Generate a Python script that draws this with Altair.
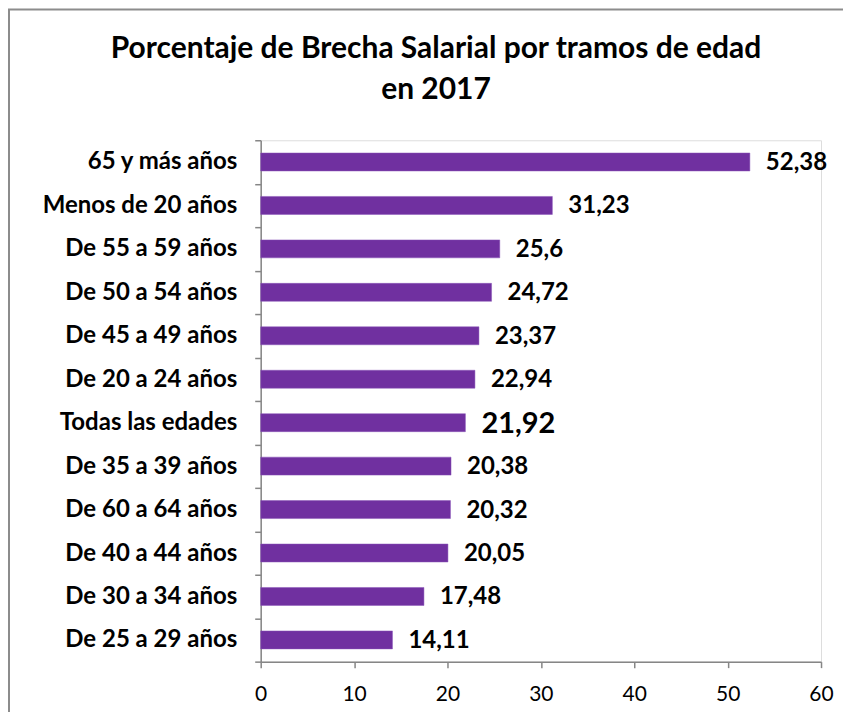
import altair as alt
import pandas as pd

categories = [
    "65 y más años", "Menos de 20 años", "De 55 a 59 años", "De 50 a 54 años",
    "De 45 a 49 años", "De 20 a 24 años", "Todas las edades", "De 35 a 39 años",
    "De 60 a 64 años", "De 40 a 44 años", "De 30 a 34 años", "De 25 a 29 años",
]
values = [52.38, 31.23, 25.6, 24.72, 23.37, 22.94, 21.92, 20.38, 20.32, 20.05, 17.48, 14.11]
labels = ["52,38", "31,23", "25,6", "24,72", "23,37", "22,94", "21,92", "20,38",
          "20,32", "20,05", "17,48", "14,11"]
x_ticks = [0, 10, 20, 30, 40, 50, 60]

df = pd.DataFrame({"categoria": categories, "valor": values, "etiqueta": labels})

FONT = "Lato"
GRAY = "#868686"
PURPLE = "#7030A0"

base = alt.Chart(df)

y_enc = alt.Y(
    "categoria:N", sort=categories, title=None,
    scale=alt.Scale(paddingInner=0, paddingOuter=0),
    axis=alt.Axis(
        tickBand="extent", domainColor=GRAY, tickColor=GRAY, tickSize=6,
        labelFont=FONT, labelFontWeight="bold", labelFontSize=24, labelColor="black",
        labelPadding=18, labelLimit=400, grid=False, domainWidth=1.5, tickWidth=1.5,
    ),
)
x_enc = alt.X(
    "valor:Q", title=None,
    scale=alt.Scale(domain=[0, 60], nice=False),
    axis=alt.Axis(
        values=x_ticks, domainColor=GRAY, tickColor=GRAY, tickSize=6,
        labelFont=FONT, labelFontSize=21, labelColor="black", labelPadding=16,
        labelFlush=False, grid=False, domainWidth=1.5, tickWidth=1.5,
    ),
)

bars = base.mark_bar(size=18, color=PURPLE, stroke="#8a55b8", strokeWidth=0.5).encode(x=x_enc, y=y_enc)

text = base.mark_text(align="left", baseline="middle", dx=16, dy=1, font=FONT,
                      fontWeight="bold", color="black").encode(
    x="valor:Q",
    y=alt.Y("categoria:N", sort=categories),
    text="etiqueta:N",
    size=alt.condition(alt.datum.categoria == "Todas las edades", alt.value(29), alt.value(24)),
)

border = alt.Chart(pd.DataFrame({"b": [0]})).mark_rect(
    fill="transparent", stroke="#8c8c8c", strokeWidth=2, clip=False
).encode(x=alt.value(-252), x2=alt.value(620), y=alt.value(-131), y2=alt.value(620))

chart = alt.layer(border, bars, text).properties(
    width=561, height=522,
    autosize=alt.AutoSizeParams(type="none"),
    padding={"left": 253, "top": 132, "right": 22, "bottom": 50},
    title=alt.TitleParams(
        ["Porcentaje de Brecha Salarial por tramos de edad", "en 2017"],
        font=FONT, fontSize=30, fontWeight="bold", color="black",
        anchor="middle", frame="group", dx=-105, lineHeight=41, offset=-97,
    ),
).configure_view(stroke=None).configure(background="white")

chart.save("out.html", embed_options={"renderer": "svg", "actions": False})
